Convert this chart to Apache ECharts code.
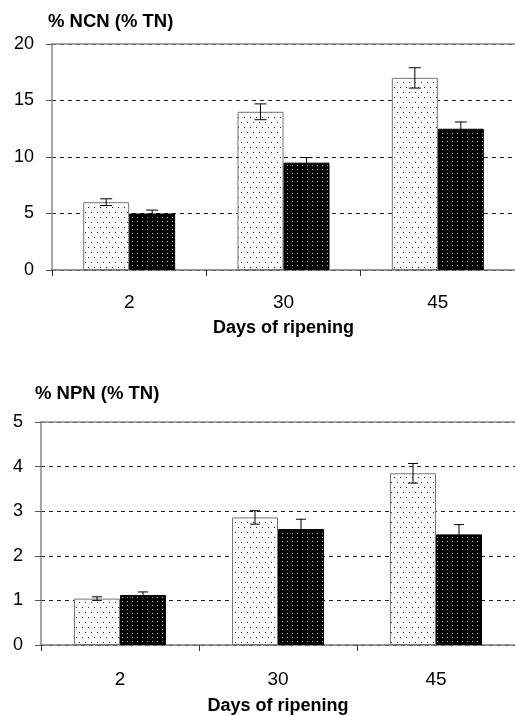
<!DOCTYPE html>
<html>
<head>
<meta charset="utf-8">
<script src="https://cdn.jsdelivr.net/npm/echarts@6/dist/echarts.min.js"></script>
<style>
html,body{margin:0;padding:0;background:#fff;}
#chart{width:515px;height:716px;}
</style>
</head>
<body>
<div id="chart"></div>
<script>
// ---- data ----
const categories = ['2', '30', '45'];
const ncnLight = [6.0, 14.0, 17.0];
const ncnLightErr = [0.3, 0.7, 0.9];
const ncnDark = [5.0, 9.5, 12.5];
const ncnDarkErr = [0.3, 0.45, 0.6];
const npnLight = [1.04, 2.86, 3.85];
const npnLightErr = [0.04, 0.15, 0.22];
const npnDark = [1.12, 2.6, 2.48];
const npnDarkErr = [0.07, 0.22, 0.22];
const ncnTicks = [0, 5, 10, 15, 20];
const npnTicks = [0, 1, 2, 3, 4, 5];
const titleTop = '% NCN (% TN)';
const titleBottom = '% NPN (% TN)';
const xName = 'Days of ripening';

// ---- patterns ----
function makePattern(bg, dot, w, h, pts) {
  const c = document.createElement('canvas');
  c.width = w; c.height = h;
  const ctx = c.getContext('2d');
  ctx.fillStyle = bg; ctx.fillRect(0, 0, w, h);
  ctx.fillStyle = dot;
  pts.forEach(p => ctx.fillRect(p[0], p[1], 1, 1));
  return c;
}
const lightPat = { image: makePattern('#ffffff', '#222222', 6, 10, [[1, 2], [4, 7]]), repeat: 'repeat' };
const darkPat = { image: makePattern('#000000', '#bbbbbb', 5, 4, [[2, 1]]), repeat: 'repeat' };

const FONT = '"Liberation Sans", Arial, sans-serif';
const BW = 46;

function errSeries(vals, errs, xi, yi, side, capW) {
  return {
    type: 'custom',
    xAxisIndex: xi, yAxisIndex: yi,
    z: 10,
    silent: true,
    data: vals.map((v, i) => [i, v - errs[i], v + errs[i]]),
    renderItem: function (params, api) {
      const lo = api.coord([api.value(0), api.value(1)]);
      const hi = api.coord([api.value(0), api.value(2)]);
      const x = lo[0] + side * BW / 2;
      const st = { stroke: '#000', lineWidth: 1 };
      return {
        type: 'group',
        children: [
          { type: 'line', shape: { x1: x, y1: lo[1], x2: x, y2: hi[1] }, style: st },
          { type: 'line', shape: { x1: x - capW / 2, y1: hi[1], x2: x + capW / 2, y2: hi[1] }, style: st },
          { type: 'line', shape: { x1: x - capW / 2, y1: lo[1], x2: x + capW / 2, y2: lo[1] }, style: st }
        ]
      };
    }
  };
}

function makeY(gi, ticks) {
  return {
    gridIndex: gi, type: 'value',
    min: ticks[0], max: ticks[ticks.length - 1], interval: ticks[1] - ticks[0],
    axisLine: { show: true, lineStyle: { color: '#888', width: 1.5 } },
    axisTick: { show: true, length: 6, lineStyle: { color: '#555' } },
    axisLabel: { fontSize: 18, color: '#000', fontFamily: FONT, margin: 18 },
    splitLine: { show: true, lineStyle: { color: '#222', type: [4, 4], width: 1 } }
  };
}
function makeX(gi, labelMargin, nameGap) {
  return {
    gridIndex: gi, type: 'category', data: categories,
    axisLine: { show: true, lineStyle: { color: '#777', width: 1.5 } },
    axisTick: { show: true, length: 6, lineStyle: { color: '#333' } },
    axisLabel: { fontSize: 19, color: '#000', fontFamily: FONT, margin: labelMargin },
    name: xName, nameLocation: 'middle', nameGap: nameGap,
    nameTextStyle: { fontSize: 18, fontWeight: 'bold', color: '#000', fontFamily: FONT }
  };
}
function makeTopLine(gi) {
  return {
    gridIndex: gi, type: 'category', data: categories, position: 'top',
    axisLine: { show: true, lineStyle: { color: '#888', width: 1.5 } },
    axisTick: { show: false }, axisLabel: { show: false }
  };
}

const option = {
  animation: false,
  backgroundColor: '#fff',
  title: [
    { text: titleTop, left: 48, top: 12, padding: 0, textStyle: { fontSize: 18.5, fontWeight: 'bold', color: '#000', fontFamily: FONT } },
    { text: titleBottom, left: 35, top: 384, padding: 0, textStyle: { fontSize: 18.5, fontWeight: 'bold', color: '#000', fontFamily: FONT } }
  ],
  grid: [
    { left: 52, top: 44, width: 472, height: 226 },
    { left: 41, top: 422, width: 486, height: 225 }
  ],
  xAxis: [makeX(0, 23, 49), makeX(1, 25, 52), makeTopLine(0), makeTopLine(1)],
  yAxis: [makeY(0, ncnTicks), makeY(1, npnTicks)],
  series: [
    { type: 'bar', xAxisIndex: 0, yAxisIndex: 0, data: ncnLight, barWidth: BW, barGap: '0%',
      itemStyle: { color: lightPat, borderColor: '#777', borderWidth: 1 } },
    { type: 'bar', xAxisIndex: 0, yAxisIndex: 0, data: ncnDark, barWidth: BW, barGap: '0%',
      itemStyle: { color: darkPat, borderColor: '#000', borderWidth: 1 } },
    { type: 'bar', xAxisIndex: 1, yAxisIndex: 1, data: npnLight, barWidth: BW, barGap: '0%',
      itemStyle: { color: lightPat, borderColor: '#777', borderWidth: 1 } },
    { type: 'bar', xAxisIndex: 1, yAxisIndex: 1, data: npnDark, barWidth: BW, barGap: '0%',
      itemStyle: { color: darkPat, borderColor: '#000', borderWidth: 1 } },
    errSeries(ncnLight, ncnLightErr, 0, 0, -1, 12),
    errSeries(ncnDark, ncnDarkErr, 0, 0, 1, 12),
    errSeries(npnLight, npnLightErr, 1, 1, -1, 10),
    errSeries(npnDark, npnDarkErr, 1, 1, 1, 10)
  ]
};

const chart = echarts.init(document.getElementById('chart'), null, { renderer: 'canvas' });
chart.setOption(option);
</script>
</body>
</html>
